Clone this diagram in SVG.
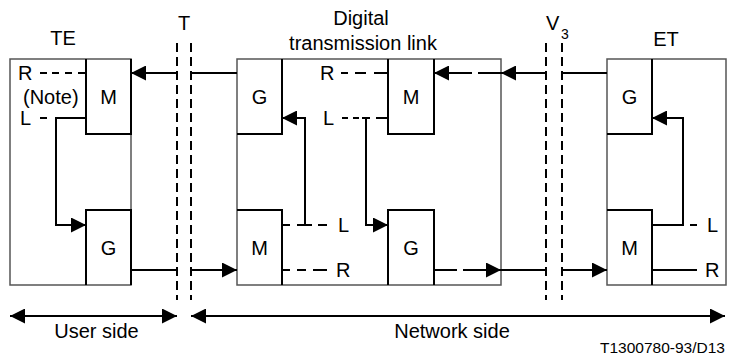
<svg xmlns="http://www.w3.org/2000/svg" width="730" height="358" viewBox="0 0 730 358">
  <style>
    text { font-family: "Liberation Sans", Arial, sans-serif; font-size: 20px; fill: #000; }
    .c { text-anchor: middle; }
    .outer { fill: #fff; stroke: #555; stroke-width: 1.5; }
    .inner { fill: none; stroke: #000; stroke-width: 2; }
    .ln { fill: none; stroke: #000; stroke-width: 2; }
    .arr { fill: none; stroke: #000; stroke-width: 2; marker-end: url(#ah); }
    .ref { fill: none; stroke: #000; stroke-width: 2; stroke-dasharray: 9 5; }
    .dim { fill: none; stroke: #000; stroke-width: 2; marker-start: url(#ah); marker-end: url(#ah); }
  </style>
  <defs>
    <marker id="ah" markerUnits="userSpaceOnUse" markerWidth="15" markerHeight="15" refX="15" refY="7.5" orient="auto-start-reverse">
      <path d="M0,0 L15,7.5 L0,15 z" fill="#000"/>
    </marker>
  </defs>
  <rect width="730" height="358" fill="#fff"/>

  <!-- TE -->
  <g id="te">
    <rect class="outer" x="10" y="59" width="121" height="226"/>
    <text class="c" x="63" y="45">TE</text>
    <text x="18" y="80">R</text>
    <text x="23" y="104">(Note)</text>
    <text x="20" y="125">L</text>
  </g>
  <g id="te-m">
    <path class="inner" d="M86,59 V134 H131 V59"/>
    <text class="c" x="108.5" y="104">M</text>
  </g>
  <g id="te-g">
    <path class="inner" d="M86,285 V210 H131 V285"/>
    <text class="c" x="108.5" y="255">G</text>
  </g>

  <!-- Digital transmission link -->
  <g id="link">
    <rect class="outer" x="237" y="59" width="264" height="226"/>
    <text class="c" x="361" y="25">Digital</text>
    <text class="c" x="363" y="50">transmission link</text>
    <text x="320" y="80">R</text>
    <text x="323" y="125">L</text>
    <text x="338" y="232">L</text>
    <text x="336" y="277">R</text>
  </g>
  <g id="link-g1">
    <path class="inner" d="M282,59 V134 H237"/>
    <text class="c" x="259.5" y="104">G</text>
  </g>
  <g id="link-m1">
    <path class="inner" d="M388,59 V134 H434 V59"/>
    <text class="c" x="411" y="104">M</text>
  </g>
  <g id="link-m2">
    <path class="inner" d="M237,210 H282 V285"/>
    <text class="c" x="259.5" y="255">M</text>
  </g>
  <g id="link-g2">
    <path class="inner" d="M388,285 V210 H434 V285"/>
    <text class="c" x="411" y="255">G</text>
  </g>

  <!-- ET -->
  <g id="et">
    <rect class="outer" x="607" y="59" width="119" height="226"/>
    <text class="c" x="666" y="46">ET</text>
    <text x="707" y="232">L</text>
    <text x="705" y="277">R</text>
  </g>
  <g id="et-g">
    <path class="inner" d="M652,59 V134 H607"/>
    <text class="c" x="629.5" y="104">G</text>
  </g>
  <g id="et-m">
    <path class="inner" d="M607,210 H652 V285"/>
    <text class="c" x="629.5" y="255">M</text>
  </g>

  <!-- Reference points -->
  <g id="ref-t">
    <path class="ref" d="M177,43 V300 M191,43 V300"/>
    <text class="c" x="184" y="30">T</text>
  </g>
  <g id="ref-v3">
    <path class="ref" d="M546,43 V300 M562,43 V300"/>
    <text x="546" y="30">V</text>
    <text x="561" y="39" style="font-size:14px">3</text>
  </g>

  <!-- Side indications -->
  <g id="user-side">
    <path class="dim" d="M10,316 H177"/>
    <text class="c" x="96.5" y="338">User side</text>
  </g>
  <g id="network-side">
    <path class="dim" d="M191,316 H725"/>
    <text class="c" x="452" y="338">Network side</text>
  </g>
  <text x="725" y="353" style="font-size:15.5px; text-anchor:end">T1300780-93/D13</text>

  <!-- Connectors -->
  <g id="connectors">
    <!-- TE internal -->
    <path class="ln" d="M40,73 H47 M52,73 H59 M65,73 H72 M78,73 H86"/>
    <path class="ln" d="M40,118 H47"/>
    <path class="arr" d="M86,118 H56 V225 H86"/>
    <!-- across T -->
    <path class="ln" d="M237,73 H191"/>
    <path class="arr" d="M177,73 H131"/>
    <path class="ln" d="M131,270 H177"/>
    <path class="arr" d="M191,270 H237"/>
    <!-- link internal -->
    <path class="ln" d="M341,73 H348 M355,73 H366 M374,73 H388"/>
    <path class="ln" d="M342,118 H348 M353,118 H359 M362,118 H370 M376,118 H388"/>
    <path class="arr" d="M366,118 V225 H388"/>
    <path class="ln" d="M282,225 H290 M297,225 H312 M318,225 H327"/>
    <path class="arr" d="M305,225 V118 H282"/>
    <path class="ln" d="M282,270 H290 M297,270 H306 M313,270 H327"/>
    <path class="arr" d="M501,73 H478 M472,73 H434"/>
    <path class="arr" d="M434,270 H457 M463,270 H501"/>
    <!-- across V3 -->
    <path class="arr" d="M546,73 H501"/>
    <path class="ln" d="M607,73 H562"/>
    <path class="ln" d="M501,270 H546"/>
    <path class="arr" d="M562,270 H607"/>
    <!-- ET internal -->
    <path class="arr" d="M652,225 H683 V118 H652"/>
    <path class="ln" d="M690,225 H697"/>
    <path class="ln" d="M652,270 H697"/>
  </g>
</svg>
